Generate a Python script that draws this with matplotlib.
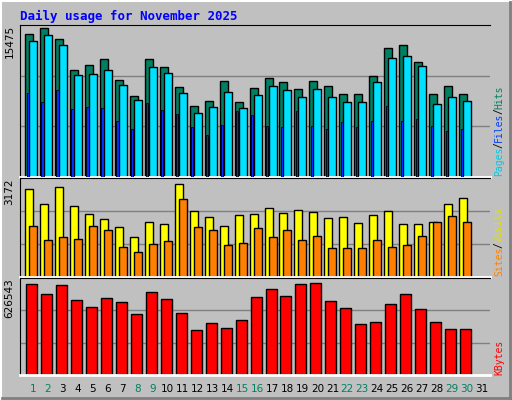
import matplotlib
matplotlib.use("Agg")
import matplotlib.pyplot as plt

days = list(range(1, 32))
hits = [14900,15475,14290,11090,11610,12230,10060,8410,12230,11400,9340,7380,7900,9960,7800,9240,10270,9860,9140,9960,9450,8620,8620,10480,13360,13670,11920,8620,9450,8620]
pages = [14080,14700,13670,10580,10680,11090,9550,8000,11400,10780,8720,6660,7280,8830,7180,8520,9450,9030,8310,9140,8310,7800,7800,9860,12330,12540,11510,7590,8310,7900]
files = [8720,7800,9030,7080,7280,7180,5840,5020,7690,6970,6560,5220,4400,5430,6870,6460,5330,5220,6870,5330,5020,5670,5220,5840,7390,5840,6050,5330,4810,5020]
visits = [2990,2490,3070,2420,2140,1970,1700,1360,1870,1800,3172,2250,2040,1730,2110,2140,2350,2180,2280,2210,2010,2040,1840,2110,2250,1800,1800,1870,2490,2690]
sites = [1730,1260,1360,1290,1730,1600,1020,840,1120,1220,2660,1700,1600,1080,1150,1670,1360,1600,1260,1390,980,980,980,1260,1020,1080,1390,1870,2080,1870]
kbytes = [626000,552100,614700,510300,468500,524200,496400,419800,566000,517300,426800,308400,357100,322300,378000,531200,586900,538200,621700,626543,503400,461600,350200,364100,489400,552100,454600,364100,315400,315400]
weekend = [1,2,8,9,15,16,22,23,29,30]
title = "Daily usage for November 2025"

W, H = 512, 400
fig = plt.figure(figsize=(W/100, H/100), dpi=100)
fig.patch.set_facecolor("#C0C0C0")

def ax_px(x0, y0, x1, y1):
    return fig.add_axes([x0/W, 1-y1/H, (x1-x0)/W, (y1-y0)/H])

bg = fig.add_axes([0, 0, 1, 1]); bg.set_xlim(0, W); bg.set_ylim(H, 0); bg.axis("off")
bg.plot([1, W-1], [1, 1], color="white", lw=1.5); bg.plot([1, 1], [1, H-1], color="white", lw=1.5)
bg.plot([2, W-1], [H-2, H-2], color="#808080", lw=2); bg.plot([W-2, W-2], [2, H-1], color="#808080", lw=2)
bg.text(20, 16, title, color="#0000FF", fontsize=9, fontweight="bold", family="DejaVu Sans Mono", va="center")

x0px, x1px = 20, 490
slot = 14.97
def xl():
    return ((x0px-33)/slot+1, (x1px-33)/slot+1)

def setup(ax, top, label):
    ax.set_facecolor("#C0C0C0")
    ax.set_xlim(*xl()); ax.set_ylim(0, top)
    for f in (1/3, 2/3):
        ax.axhline(top*f, color="#808080", lw=1, zorder=0)
    ax.set_xticks([]); ax.set_yticks([])
    for s in ax.spines.values(): s.set_visible(False)
    ax.spines["left"].set_visible(True); ax.spines["left"].set_color("black")
    ax.spines["bottom"].set_visible(True); ax.spines["bottom"].set_color("white"); ax.spines["bottom"].set_linewidth(2)
    ax.spines["top"].set_visible(True); ax.spines["top"].set_color("black")
    ax.text(-0.012, 1.0, label, transform=ax.transAxes, rotation=90, ha="right", va="top", fontsize=7.5)

d = days[:30]
kw = dict(edgecolor="black", linewidth=1, align="edge")
u = 1/slot
a1 = ax_px(x0px, 25, x1px, 177)
setup(a1, 15475*1.02, "15475")
a1.bar([i-8*u for i in d], hits, width=8*u, color="#008060", **kw)
a1.bar([i-4*u for i in d], pages, width=8*u, color="#00E0FF", **kw)
a1.bar([i-6.5*u for i in d], files, width=2.2*u, color="#0030FF", edgecolor="black", linewidth=0.6, align="edge", zorder=3)

a2 = ax_px(x0px, 178, x1px, 277)
setup(a2, 3172*1.06, "3172")
a2.bar([i-8*u for i in d], visits, width=8*u, color="#FFFF00", **kw)
a2.bar([i-4*u for i in d], sites, width=8*u, color="#FF8000", **kw)

a3 = ax_px(x0px, 278, x1px, 375)
setup(a3, 626543*1.06, "626543")
a3.bar([i-7*u for i in d], kbytes, width=11*u, color="#FF0000", **kw)

for day in days:
    xp = 33 + (day-1)*slot
    bg.text(xp, 389, str(day), ha="center", va="center", fontsize=7.5,
            color="#008060" if day in weekend else "black")

def rlabel(y, parts):
    yy = y
    for txt, col in parts:
        bg.text(499, yy, txt, rotation=90, color=col, fontsize=7, family="DejaVu Sans Mono", ha="center", va="bottom")
        yy -= len(txt)*5.6
rlabel(176, [("Pages", "#00C8E0"), ("/", "black"), ("Files", "#0040FF"), ("/", "black"), ("Hits", "#008060")])
rlabel(276, [("Sites", "#FF8000"), ("/", "black"), ("Visits", "#E0E000")])
rlabel(375, [("KBytes", "#FF0000")])

fig.savefig("out.png", dpi=100, facecolor=fig.get_facecolor())
